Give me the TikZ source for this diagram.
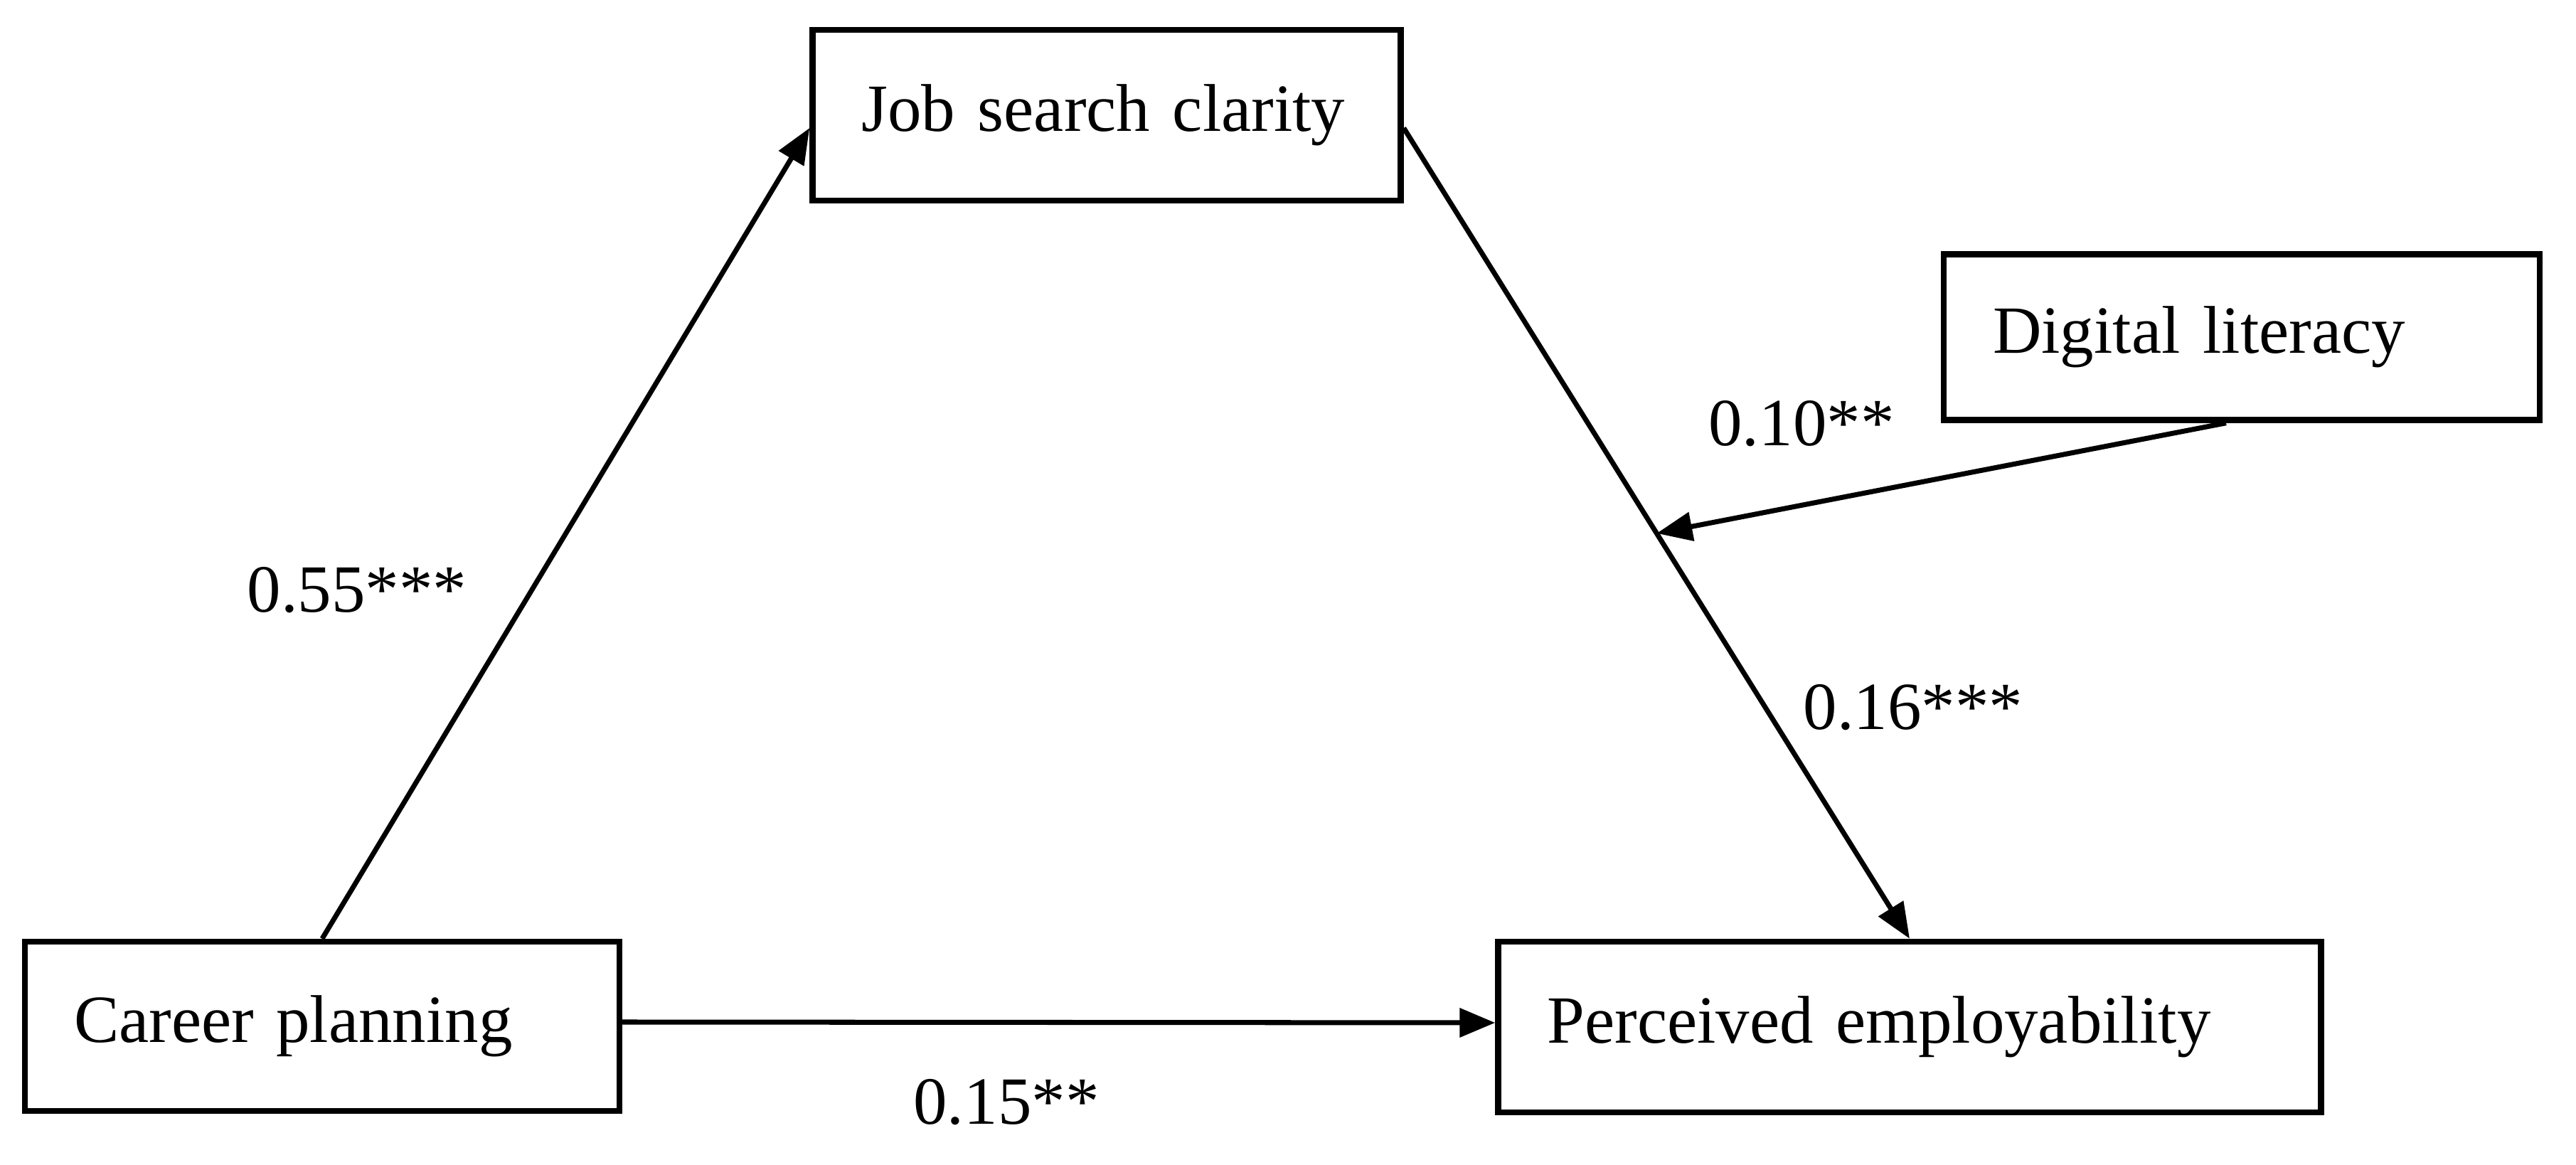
\documentclass[tikz,border=0pt]{standalone}
\usepackage{fontspec}
\setmainfont{Liberation Serif}
\usetikzlibrary{arrows.meta,calc}
\tikzset{
	varbox/.style={draw, rectangle, line width=2.4pt, inner xsep=0.69cm, inner ysep=0pt, align=left, font=\fontsize{27}{32}\selectfont},
	coef/.style={inner sep=0pt, font=\fontsize{27}{32}\selectfont},
	effect/.style={line width=2pt, -{Triangle[length=0.5cm,width=0.4cm]}}
}

\begin{document}
\begin{tikzpicture}
			\fill[white] (0,0) rectangle (36.22,-16.38);
			\node[varbox, text width=6.89cm, minimum height=2.40cm] (jsc) at (15.56,-1.62) {Job search clarity};
			\node[varbox, text width=7.00cm, minimum height=2.33cm] (dl) at (31.52,-4.74) {Digital literacy};
			\node[varbox, text width=6.98cm, minimum height=2.38cm] (cp) at (4.53,-14.43) {Career planning};
			\node[varbox, text width=10.19cm, minimum height=2.40cm] (pe) at (26.85,-14.44) {Perceived employability};
			\coordinate (mod) at ($([yshift=-0.18cm]jsc.east)!0.5!(pe.north)$);
			\path[effect]
			(cp.north) edge ([yshift=-0.18cm]jsc.west)
			([yshift=-0.18cm]jsc.east) edge (pe.north)
			([xshift=-0.22cm]dl.south) edge (mod)
			([yshift=0.06cm]cp.east) edge ([yshift=0.06cm]pe.west);
			\node[coef] (a) at (5.02,-8.30) {0.55***};
			\node[coef] (w) at (25.33,-5.96) {0.10**};
			\node[coef] (b) at (26.90,-9.95) {0.16***};
			\node[coef] (c) at (14.15,-15.50) {0.15**};
		\end{tikzpicture}
\end{document}
